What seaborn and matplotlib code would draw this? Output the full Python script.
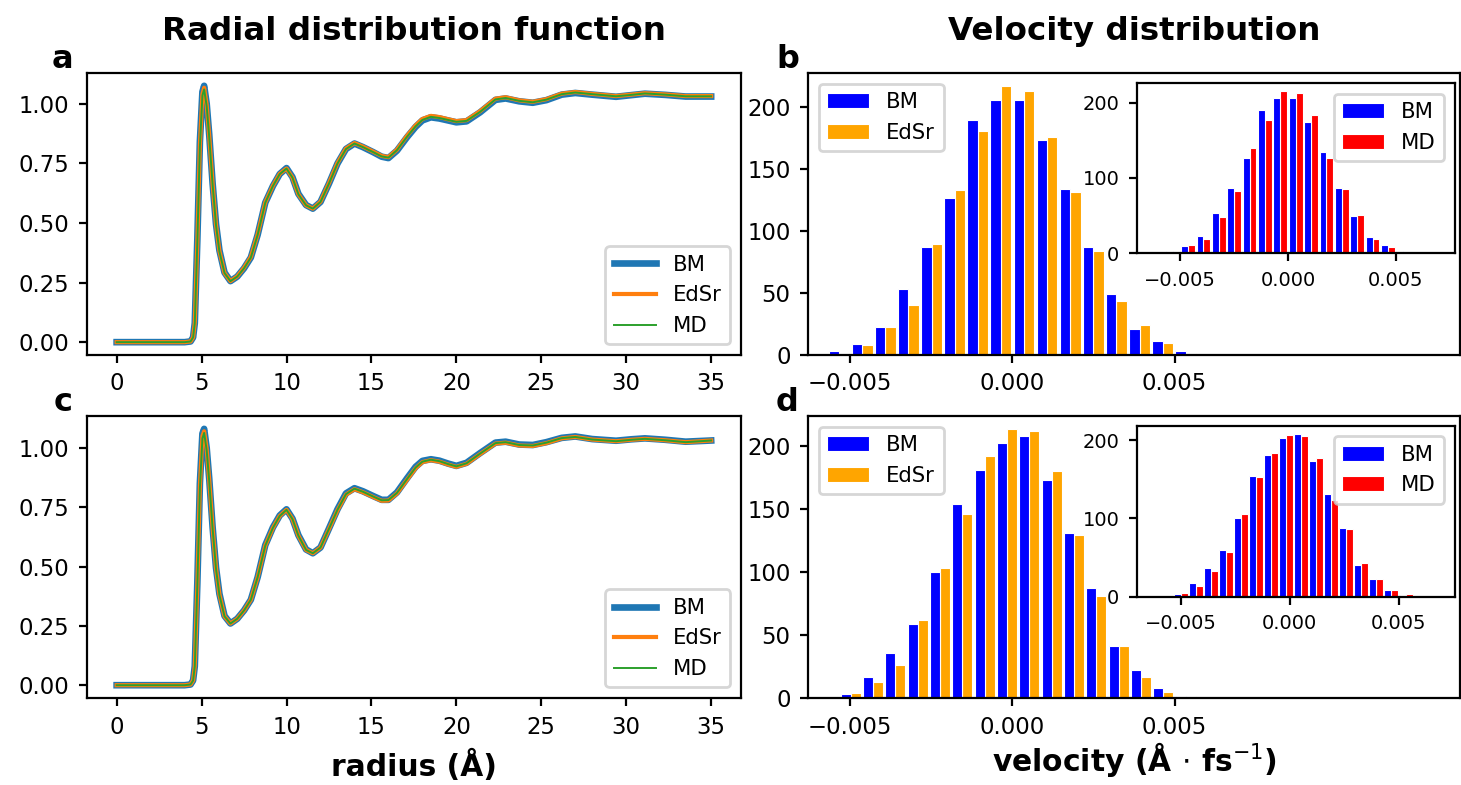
import numpy as np
import pandas as pd
import matplotlib
matplotlib.use("Agg")
import matplotlib.pyplot as plt
import seaborn as sns

# ---------------- radial distribution function g(r) ----------------
radius = [0.0, 1.0, 2.0, 3.0, 4.0, 4.35, 4.5, 4.6, 4.75, 4.9, 5.05, 5.15, 5.3,
          5.45, 5.65, 5.85, 6.05, 6.35, 6.7, 7.1, 7.5, 7.9, 8.3, 8.75, 9.2, 9.6,
          10.0, 10.35, 10.7, 11.15, 11.55, 12.0, 12.5, 13.0, 13.5, 14.0, 14.5,
          15.1, 15.6, 16.0, 16.5, 17.1, 17.6, 18.0, 18.5, 19.0, 19.5, 20.0, 20.6,
          21.4, 22.3, 22.9, 23.7, 24.5, 25.3, 26.2, 27.0, 28.0, 29.4, 30.3, 31.1,
          32.3, 33.5, 35.0]

# system 1 (panel a)
gr_a_bm = [0, 0, 0, 0, 0, 0.003, 0.02, 0.08, 0.43, 0.84, 1.05, 1.075, 1.0,
           0.87, 0.665, 0.495, 0.385, 0.292, 0.256, 0.275, 0.31, 0.355, 0.45,
           0.585, 0.655, 0.705, 0.73, 0.692, 0.622, 0.575, 0.56, 0.588, 0.665,
           0.749, 0.81, 0.833, 0.818, 0.797, 0.778, 0.772, 0.803, 0.86, 0.903,
           0.93, 0.943, 0.938, 0.93, 0.922, 0.926, 0.964, 1.016, 1.022, 1.01,
           1.004, 1.015, 1.038, 1.045, 1.038, 1.029, 1.036, 1.042, 1.037, 1.03,
           1.03]
gr_a_edsr = [0, 0, 0, 0, 0, 0.003, 0.02, 0.08, 0.42, 0.83, 1.04, 1.067, 0.995,
             0.865, 0.662, 0.492, 0.382, 0.29, 0.256, 0.276, 0.312, 0.357,
             0.452, 0.586, 0.656, 0.706, 0.728, 0.69, 0.62, 0.574, 0.56, 0.589,
             0.667, 0.751, 0.812, 0.835, 0.82, 0.799, 0.781, 0.776, 0.807, 0.866,
             0.909, 0.936, 0.949, 0.944, 0.935, 0.927, 0.931, 0.969, 1.021,
             1.027, 1.014, 1.008, 1.019, 1.042, 1.049, 1.041, 1.032, 1.038,
             1.044, 1.039, 1.032, 1.032]
gr_a_md = [0, 0, 0, 0, 0, 0.003, 0.02, 0.08, 0.42, 0.82, 1.035, 1.06, 0.99,
           0.86, 0.66, 0.49, 0.38, 0.29, 0.256, 0.275, 0.31, 0.355, 0.45,
           0.585, 0.655, 0.705, 0.728, 0.69, 0.62, 0.574, 0.56, 0.588, 0.665,
           0.749, 0.81, 0.833, 0.818, 0.797, 0.779, 0.774, 0.805, 0.862, 0.905,
           0.932, 0.945, 0.94, 0.932, 0.924, 0.928, 0.966, 1.018, 1.024, 1.012,
           1.006, 1.017, 1.04, 1.047, 1.04, 1.031, 1.037, 1.043, 1.038, 1.031,
           1.031]

# system 2 (panel c)
gr_c_bm = [0, 0, 0, 0, 0, 0.003, 0.02, 0.08, 0.43, 0.85, 1.06, 1.08, 1.0,
           0.87, 0.665, 0.495, 0.385, 0.292, 0.26, 0.28, 0.315, 0.36, 0.455,
           0.59, 0.665, 0.715, 0.741, 0.702, 0.632, 0.572, 0.556, 0.58, 0.66,
           0.741, 0.808, 0.83, 0.817, 0.797, 0.781, 0.781, 0.812, 0.872, 0.92,
           0.945, 0.952, 0.946, 0.934, 0.924, 0.937, 0.978, 1.022, 1.026, 1.014,
           1.012, 1.024, 1.042, 1.048, 1.037, 1.03, 1.036, 1.04, 1.034, 1.026,
           1.031]
gr_c_edsr = [0, 0, 0, 0, 0, 0.003, 0.02, 0.08, 0.42, 0.84, 1.05, 1.07, 0.995,
             0.865, 0.662, 0.492, 0.382, 0.29, 0.26, 0.28, 0.315, 0.36, 0.455,
             0.588, 0.663, 0.713, 0.739, 0.7, 0.63, 0.57, 0.556, 0.58, 0.658,
             0.737, 0.803, 0.826, 0.813, 0.793, 0.777, 0.778, 0.808, 0.866,
             0.914, 0.94, 0.948, 0.942, 0.93, 0.92, 0.933, 0.974, 1.018, 1.022,
             1.01, 1.008, 1.02, 1.04, 1.046, 1.035, 1.028, 1.034, 1.038, 1.032,
             1.024, 1.031]
gr_c_md = [0, 0, 0, 0, 0, 0.003, 0.02, 0.08, 0.42, 0.83, 1.04, 1.063, 0.99,
           0.86, 0.66, 0.49, 0.38, 0.29, 0.26, 0.28, 0.315, 0.36, 0.455, 0.588,
           0.663, 0.713, 0.739, 0.7, 0.63, 0.57, 0.556, 0.58, 0.659, 0.739,
           0.805, 0.828, 0.815, 0.795, 0.779, 0.78, 0.81, 0.869, 0.917, 0.942,
           0.95, 0.944, 0.932, 0.922, 0.935, 0.976, 1.02, 1.024, 1.012, 1.01,
           1.022, 1.041, 1.046, 1.035, 1.028, 1.034, 1.038, 1.032, 1.024, 1.031]

rdf_yticks = [0.0, 0.25, 0.5, 0.75, 1.0]

# ---------------- velocity histograms (counts per bin) ----------------
vel_edges_b = np.linspace(-0.0057, 0.0057, 17)
vel_counts_b_bm = [3, 9, 23, 53, 87, 127, 190, 206, 206, 174, 134, 87, 49, 21, 11, 3]
vel_counts_b_edsr = [2, 8, 23, 40, 90, 133, 181, 217, 213, 176, 132, 84, 44, 24, 10, 2]
vel_counts_b_md = [3, 11, 19, 48, 82, 139, 177, 215, 213, 184, 127, 85, 51, 19, 8, 1]

vel_edges_d = np.linspace(-0.00602, 0.00569, 18)
vel_counts_d_bm = [1, 3, 17, 36, 59, 100, 154, 181, 202, 208, 173, 131, 87, 41, 22, 8, 2]
vel_counts_d_edsr = [0, 4, 13, 26, 62, 103, 146, 192, 213, 212, 180, 129, 81, 41, 17, 5, 2]
vel_counts_d_md = [0, 5, 14, 33, 57, 106, 153, 184, 206, 205, 177, 124, 86, 43, 23, 8, 3]

vel_ticks = [-0.005, 0.0, 0.005]
inset_yticks = [0, 100, 200]

series_labels = ["BM", "EdSr", "MD"]
line_colors = {"BM": "tab:blue", "EdSr": "tab:orange", "MD": "tab:green"}
line_widths = {"BM": 2.4, "EdSr": 1.5, "MD": 0.7}
bar_colors = {"BM": "blue", "EdSr": "orange", "MD": "red"}

TICK_FS = 8.2
INSET_TICK_FS = 7
LEGEND_FS = 7.6
TITLE_FS = 11.7
LABEL_FS = 10.7
LETTER_FS = 11.5

plt.rcParams["xtick.major.size"] = 2.8
plt.rcParams["ytick.major.size"] = 2.8

fig = plt.figure(figsize=(7.305, 3.925), dpi=200)

ax_a = fig.add_axes([0.0595, 0.5478, 0.4476, 0.3592])
ax_c = fig.add_axes([0.0595, 0.1108, 0.4476, 0.3592])
ax_b = fig.add_axes([0.5531, 0.5478, 0.4462, 0.3592])
ax_d = fig.add_axes([0.5531, 0.1108, 0.4462, 0.3592])
in_b = fig.add_axes([0.7782, 0.6775, 0.2177, 0.2166])
in_d = fig.add_axes([0.7782, 0.2400, 0.2177, 0.2178])


def draw_rdf(ax, curves):
    for name in series_labels:
        sns.lineplot(x=radius, y=curves[name], ax=ax, color=line_colors[name],
                     linewidth=line_widths[name], label=name)
    ax.set_xlabel("")
    ax.set_ylabel("")
    ax.set_yticks(rdf_yticks)
    ax.tick_params(labelsize=TICK_FS)
    ax.legend(loc="lower right", fontsize=LEGEND_FS)


def hist_frame(edges, counts):
    centers = 0.5 * (edges[:-1] + edges[1:])
    parts = []
    for name, vals in counts.items():
        parts.append(pd.DataFrame({"velocity": centers, "count": vals, "source": name}))
    return pd.concat(parts, ignore_index=True)


def draw_hist(ax, edges, counts, legend_loc, tick_fs, xlim):
    df = hist_frame(edges, counts)
    names = list(counts.keys())
    sns.histplot(data=df, x="velocity", weights="count", hue="source",
                 hue_order=names, bins=[float(e) for e in edges],
                 multiple="dodge", shrink=0.9,
                 palette={n: bar_colors[n] for n in names}, alpha=1,
                 edgecolor="white", linewidth=0.4, ax=ax)
    sns.move_legend(ax, legend_loc, title=None, fontsize=LEGEND_FS)
    ax.set_xlabel("")
    ax.set_ylabel("")
    ax.set_xlim(*xlim)
    ax.set_xticks(vel_ticks)
    ax.tick_params(labelsize=tick_fs)


draw_rdf(ax_a, {"BM": gr_a_bm, "EdSr": gr_a_edsr, "MD": gr_a_md})
draw_rdf(ax_c, {"BM": gr_c_bm, "EdSr": gr_c_edsr, "MD": gr_c_md})

draw_hist(ax_b, vel_edges_b, {"BM": vel_counts_b_bm, "EdSr": vel_counts_b_edsr},
          "upper left", TICK_FS, (-0.0063, 0.0138))
draw_hist(ax_d, vel_edges_d, {"BM": vel_counts_d_bm, "EdSr": vel_counts_d_edsr},
          "upper left", TICK_FS, (-0.0063, 0.0138))
draw_hist(in_b, vel_edges_b, {"BM": vel_counts_b_bm, "MD": vel_counts_b_md},
          "upper right", INSET_TICK_FS, (-0.0070, 0.00774))
draw_hist(in_d, vel_edges_d, {"BM": vel_counts_d_bm, "MD": vel_counts_d_md},
          "upper right", INSET_TICK_FS, (-0.0070, 0.00758))
in_b.set_yticks(inset_yticks)
in_d.set_yticks(inset_yticks)

ax_a.set_title("Radial distribution function", fontsize=TITLE_FS,
               fontweight="bold", pad=12)
ax_b.set_title("Velocity distribution", fontsize=TITLE_FS,
               fontweight="bold", pad=12)
ax_c.set_xlabel("radius (Å)", fontsize=LABEL_FS, fontweight="bold")
ax_d.set_xlabel(r"velocity (Å$\,\cdot\,$fs$^{-1}$)", fontsize=LABEL_FS,
                fontweight="bold", labelpad=0.5)

for letter, x, y in [("a", 0.043, 0.924), ("b", 0.539, 0.924),
                     ("c", 0.043, 0.487), ("d", 0.539, 0.487)]:
    fig.text(x, y, letter, fontsize=LETTER_FS, fontweight="bold",
             ha="center", va="center")

fig.savefig("out.png", dpi=200)
